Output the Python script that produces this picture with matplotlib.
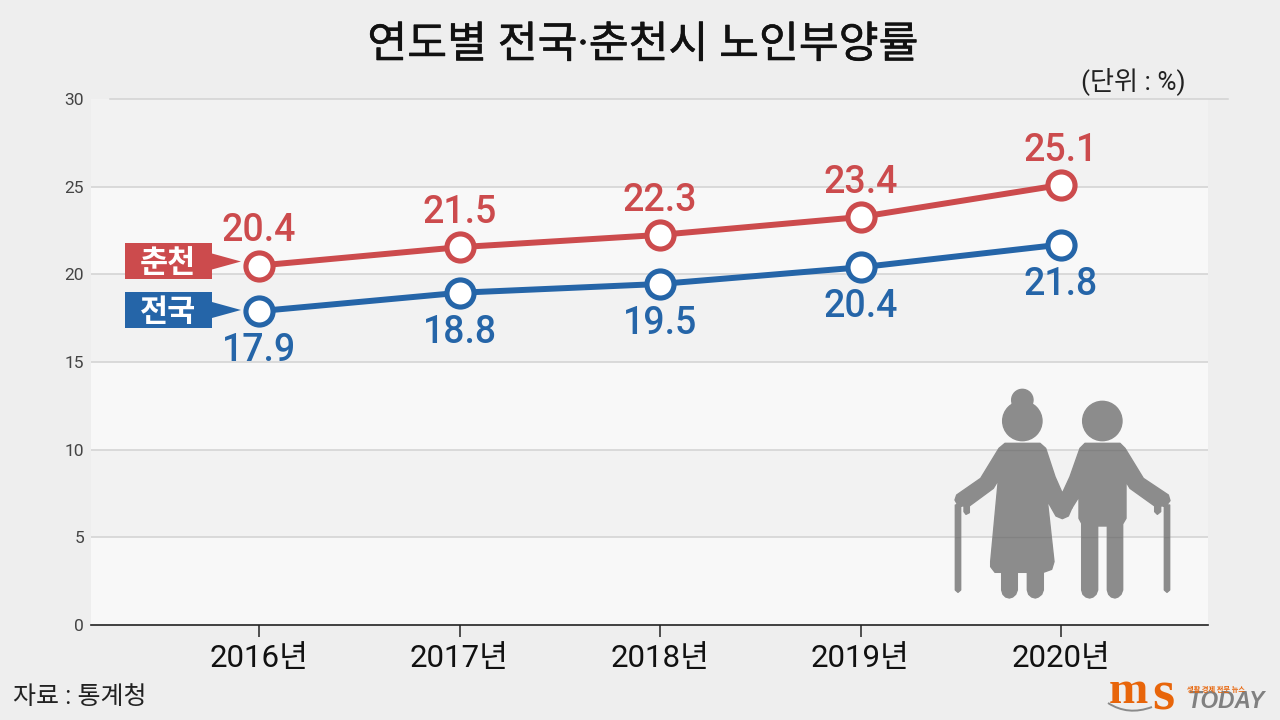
import matplotlib
matplotlib.use("Agg")
import matplotlib.pyplot as plt
import matplotlib.patheffects as pe
from matplotlib.patches import Rectangle, Polygon, PathPatch
from matplotlib.path import Path

FONTS = ['Roboto', 'Noto Sans CJK KR', 'DejaVu Sans']
plt.rcParams['font.family'] = FONTS

# Data
years = ['2016년', '2017년', '2018년', '2019년', '2020년']
chuncheon = [20.5, 21.55, 22.25, 23.27, 25.1]
national = [17.9, 18.95, 19.45, 20.4, 21.7]
chuncheon_labels = ['20.4', '21.5', '22.3', '23.4', '25.1']
national_labels = ['17.9', '18.8', '19.5', '20.4', '21.8']
y_ticks = [0, 5, 10, 15, 20, 25, 30]

RED = '#CC4B4D'
BLUE = '#2565A8'
BG = '#EEEEEE'
BAND_DARK = '#F2F2F2'
BAND_LIGHT = '#F8F8F8'
GRID = '#D2D2D2'

W, H = 1280, 720
fig = plt.figure(figsize=(12.8, 7.2), dpi=100, facecolor=BG)

# Plot area, placed in pixels
left, right, top, bottom = 91, 1208, 99, 625
ax = fig.add_axes([left / W, (H - bottom) / H, (right - left) / W, (bottom - top) / H])
first_x, step = 259, 200.5
ax.set_xlim((left - first_x) / step, (right - first_x) / step)
ax.set_ylim(0, 30)
ax.set_facecolor(BAND_LIGHT)

# Alternating bands. The 10-15 band sits above the low labels, it cuts off 17.9
for lo, hi in zip(y_ticks[:-1], y_ticks[1:]):
    dark = lo in (5, 15, 25)
    z = 2.6 if lo == 10 else 0.5
    ax.axhspan(lo, hi, color=BAND_DARK if dark else BAND_LIGHT, lw=0, zorder=z)
for t in y_ticks[1:-1]:
    ax.axhline(t, color=GRID, lw=1.1, zorder=2.7 if t <= 15 else 2)

x = range(len(years))
for vals, labels, col, off in [(chuncheon, chuncheon_labels, RED, 25),
                               (national, national_labels, BLUE, -28.5)]:
    ax.plot(x, vals, color=col, lw=4.3, marker='o', ms=19.5, mfc='white', mec=col, mew=3.7,
            zorder=3, solid_capstyle='round')
    for i, (v, lab) in enumerate(zip(vals, labels)):
        ax.annotate(lab, (i, v), xytext=(0, off), textcoords='offset points',
                    ha='center', va='center', fontsize=27, color=col,
                    fontweight=500, zorder=2.5)

for s in ('left', 'top', 'right'):
    ax.spines[s].set_visible(False)
ax.spines['bottom'].set_color('#222222')
ax.spines['bottom'].set_linewidth(1.2)
ax.set_xticks(list(x))
ax.set_xticklabels(years, fontsize=22.5, color='#111111')
ax.set_yticks(y_ticks)
ax.set_yticklabels([str(t) for t in y_ticks], fontsize=12.5, color='#444444')
ax.tick_params(axis='x', length=8.5, width=1.2, color='#333333', pad=5)
ax.tick_params(axis='y', length=0, pad=5)

# Overlay in pixel coordinates for the title, tags, icon and logo
ov = fig.add_axes([0, 0, 1, 1], facecolor='none')
ov.set_xlim(0, W)
ov.set_ylim(H, 0)
ov.axis('off')

ov.plot([110, 1228], [99, 99], color=GRID, lw=1.1)
title = ov.text(643, 46, '연도별 전국·춘천시 노인부양률', ha='center', va='center',
                fontsize=31.2, color='#111111')
title.set_path_effects([pe.withStroke(linewidth=0.4, foreground='#111111')])
ov.text(1133, 81, '(단위 : %)', ha='center', va='center', fontsize=18.8, color='#222222')
ov.text(13, 697, '자료 : 통계청', ha='left', va='center', fontsize=18, color='#222222')

# Series tags
for name, col, y0, tip in [('춘천', RED, 243, 261.5), ('전국', BLUE, 292, 310)]:
    ov.add_patch(Rectangle((125, y0), 87, 36, fc=col, ec='none'))
    ov.add_patch(Polygon([(212, tip - 8), (241, tip), (212, tip + 8)], fc=col, ec='none'))
    ov.text(168, y0 + 20, name, ha='center', va='center', fontsize=22,
            fontweight='bold', color='white')

# Elderly couple icon, outline traced in zoomed crop coordinates
grandma = [(225, 190), (330, 190), (347, 205), (375, 290), (397, 340), (425, 385), (415, 408),
           (397, 416), (378, 408), (352, 362), (372, 545), (365, 568), (340, 577), (340, 630),
           (335, 643), (325, 651), (316, 654), (305, 651), (296, 643), (292, 630), (292, 577),
           (262, 577), (262, 630), (257, 643), (248, 651), (238, 654), (227, 651), (219, 643),
           (215, 630), (215, 577), (195, 577), (182, 560), (182, 545), (205, 300),
           (190, 325), (118, 378), (118, 398), (108, 403), (102, 395), (102, 378), (85, 378),
           (75, 360), (80, 345), (152, 295), (207, 205)]
grandpa = [(450, 205), (465, 190), (570, 190), (585, 205), (640, 295), (715, 345), (720, 362),
           (708, 378), (692, 378), (692, 395), (682, 403), (674, 395), (674, 378), (600, 325),
           (588, 305), (588, 415), (578, 432), (578, 630), (573, 643), (564, 651), (555, 654),
           (544, 651), (536, 643), (532, 630), (532, 438), (503, 438), (503, 630), (498, 643),
           (489, 651), (479, 654), (468, 651), (459, 643), (455, 630), (455, 430),
           (447, 415), (447, 350), (425, 385), (397, 340), (420, 290)]
cane_l = [(76, 375), (92, 375), (92, 630), (84, 637), (76, 630)]
cane_r = [(703, 375), (719, 375), (719, 630), (711, 637), (703, 630)]


def to_px(p):
    return (930 + p[0] / 3, 380 + p[1] / 3)


verts, codes = [], []
for shape in (grandma, grandpa, cane_l, cane_r):
    pts = [to_px(p) for p in shape]
    verts += pts + [pts[0]]
    codes += [Path.MOVETO] + [Path.LINETO] * (len(pts) - 1) + [Path.CLOSEPOLY]
for cx, cy, r in [(277, 123, 59), (277, 60, 32), (517, 123, 59)]:
    c = Path.circle(to_px((cx, cy)), r / 3)
    verts += list(map(tuple, c.vertices))
    codes += list(c.codes)
icon = PathPatch(Path(verts, codes), fc='#8C8C8C', ec='#8C8C8C', lw=1.0, joinstyle='round')
ov.add_patch(icon)
# Faint grid lines showing through the icon
for t in y_ticks[1:3]:
    y_px = bottom - (bottom - top) * t / 30
    line, = ov.plot([930, 1200], [y_px, y_px], color='#828282', lw=1.0)
    line.set_clip_path(icon)

# Logo
ov.text(1109, 692, 'm', ha='left', va='center', fontsize=34, fontweight='bold',
        family='Liberation Serif', color='#E8650A')
ov.text(1152, 695, 's', ha='left', va='center', fontsize=41, fontweight='bold',
        family='Liberation Serif', color='#E8650A')
swoosh = Path([(1108, 703), (1128, 716), (1152, 707)], [Path.MOVETO, Path.CURVE3, Path.CURVE3])
ov.add_patch(PathPatch(swoosh, fc='none', ec='#8A8A8A', lw=1.4))
ov.text(1187, 702, 'TODAY', ha='left', va='center', fontsize=16.3, fontweight='bold',
        style='italic', family='Liberation Sans', color='#808080')
ov.text(1187, 689, '생활 경제 전문 뉴스', ha='left', va='center', fontsize=5.2,
        fontweight='bold', family=['Noto Sans CJK KR', 'DejaVu Sans'], color='#E8650A')

fig.savefig('out.png', dpi=100, facecolor=BG)
